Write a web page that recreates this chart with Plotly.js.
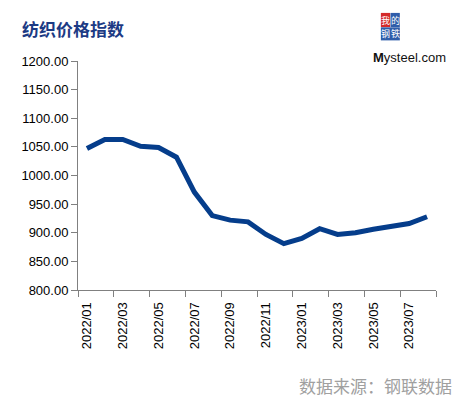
<!DOCTYPE html>
<html>
<head>
<meta charset="utf-8">
<script src="https://cdn.plot.ly/plotly-3.0.1.min.js"></script>
<style>html,body{margin:0;padding:0;background:#fff;}#chart{width:458px;height:397px;}</style>
</head>
<body>
<div id="chart"></div>
<script>
const months = ["2022/01","2022/02","2022/03","2022/04","2022/05","2022/06","2022/07","2022/08","2022/09","2022/10",
                "2022/11","2022/12","2023/01","2023/02","2023/03","2023/04","2023/05","2023/06","2023/07","2023/08"];
const textileIndex = [1047, 1063, 1063, 1051, 1049, 1032, 971, 930, 922, 919,
                      897, 881, 890, 907, 897, 900, 906, 912, 916, 928];
const yTicks = [800, 850, 900, 950, 1000, 1050, 1100, 1150, 1200];
const chartTitle = "纺织价格指数";
const sourceText = "数据来源：钢联数据";

const trace = {
  x: months, y: textileIndex, type: "scatter", mode: "lines",
  line: {color: "#053D8B", width: 5, shape: "linear"},
  hoverinfo: "x+y"
};

const logoFont = {family: "Noto Sans CJK SC", size: 9, color: "#fff"};

const layout = {
  width: 458, height: 397,
  margin: {l: 78, r: 22, t: 61, b: 107},
  paper_bgcolor: "#fff", plot_bgcolor: "#fff",
  showlegend: false,
  font: {family: "Liberation Sans, Arial, sans-serif", size: 13, color: "#000"},
  xaxis: {
    type: "category", tickson: "boundaries", dtick: 2,
    tickangle: -90, ticks: "outside", ticklen: 6, tickcolor: "#808080",
    ticklabelstandoff: 6,
    showline: true, linecolor: "#808080", linewidth: 1,
    showgrid: false, zeroline: false,
    tickfont: {size: 13, color: "#000"},
    range: [-0.5, 19.5]
  },
  yaxis: {
    range: [800, 1200], tickvals: yTicks, tickformat: ".2f",
    ticks: "outside", ticklen: 6, tickcolor: "#808080",
    showline: true, linecolor: "#808080", linewidth: 1,
    showgrid: false, zeroline: false,
    tickfont: {size: 13, color: "#000"}
  },
  annotations: [
    {text: "<b>" + chartTitle + "</b>", xref: "paper", yref: "paper", x: -0.163, y: 1.14, xanchor: "left", yanchor: "middle",
     showarrow: false, font: {family: "Noto Sans CJK SC", size: 17, color: "#1C3A84"}},
    {text: sourceText, xref: "paper", yref: "paper", x: 1.05, y: -0.415, xanchor: "right", yanchor: "middle",
     showarrow: false, font: {family: "Noto Sans CJK SC", size: 17, color: "#A0A0A0"}},
    {text: "我", xref: "paper", yref: "paper", x: 0.859, y: 1.179, xanchor: "center", yanchor: "middle",
     showarrow: false, font: logoFont},
    {text: "的", xref: "paper", yref: "paper", x: 0.886, y: 1.179, xanchor: "center", yanchor: "middle",
     showarrow: false, font: logoFont},
    {text: "钢", xref: "paper", yref: "paper", x: 0.859, y: 1.12, xanchor: "center", yanchor: "middle",
     showarrow: false, font: logoFont},
    {text: "铁", xref: "paper", yref: "paper", x: 0.886, y: 1.12, xanchor: "center", yanchor: "middle",
     showarrow: false, font: logoFont},
    {text: "<b>M</b>ysteel.com", xref: "paper", yref: "paper", x: 0.925, y: 1.015, xanchor: "center", yanchor: "middle",
     showarrow: false, font: {family: "Liberation Sans", size: 13, color: "#111"}}
  ],
  shapes: [
    {type: "rect", xref: "paper", yref: "paper", x0: 0.846, x1: 0.872, y0: 1.148, y1: 1.21, fillcolor: "#D42A2A", line: {width: 0}},
    {type: "rect", xref: "paper", yref: "paper", x0: 0.873, x1: 0.899, y0: 1.148, y1: 1.21, fillcolor: "#2F5DAA", line: {width: 0}},
    {type: "rect", xref: "paper", yref: "paper", x0: 0.846, x1: 0.899, y0: 1.09, y1: 1.147, fillcolor: "#2F5DAA", line: {width: 0}}
  ]
};

Plotly.newPlot("chart", [trace], layout, {displayModeBar: false, staticPlot: true});
</script>
</body>
</html>
